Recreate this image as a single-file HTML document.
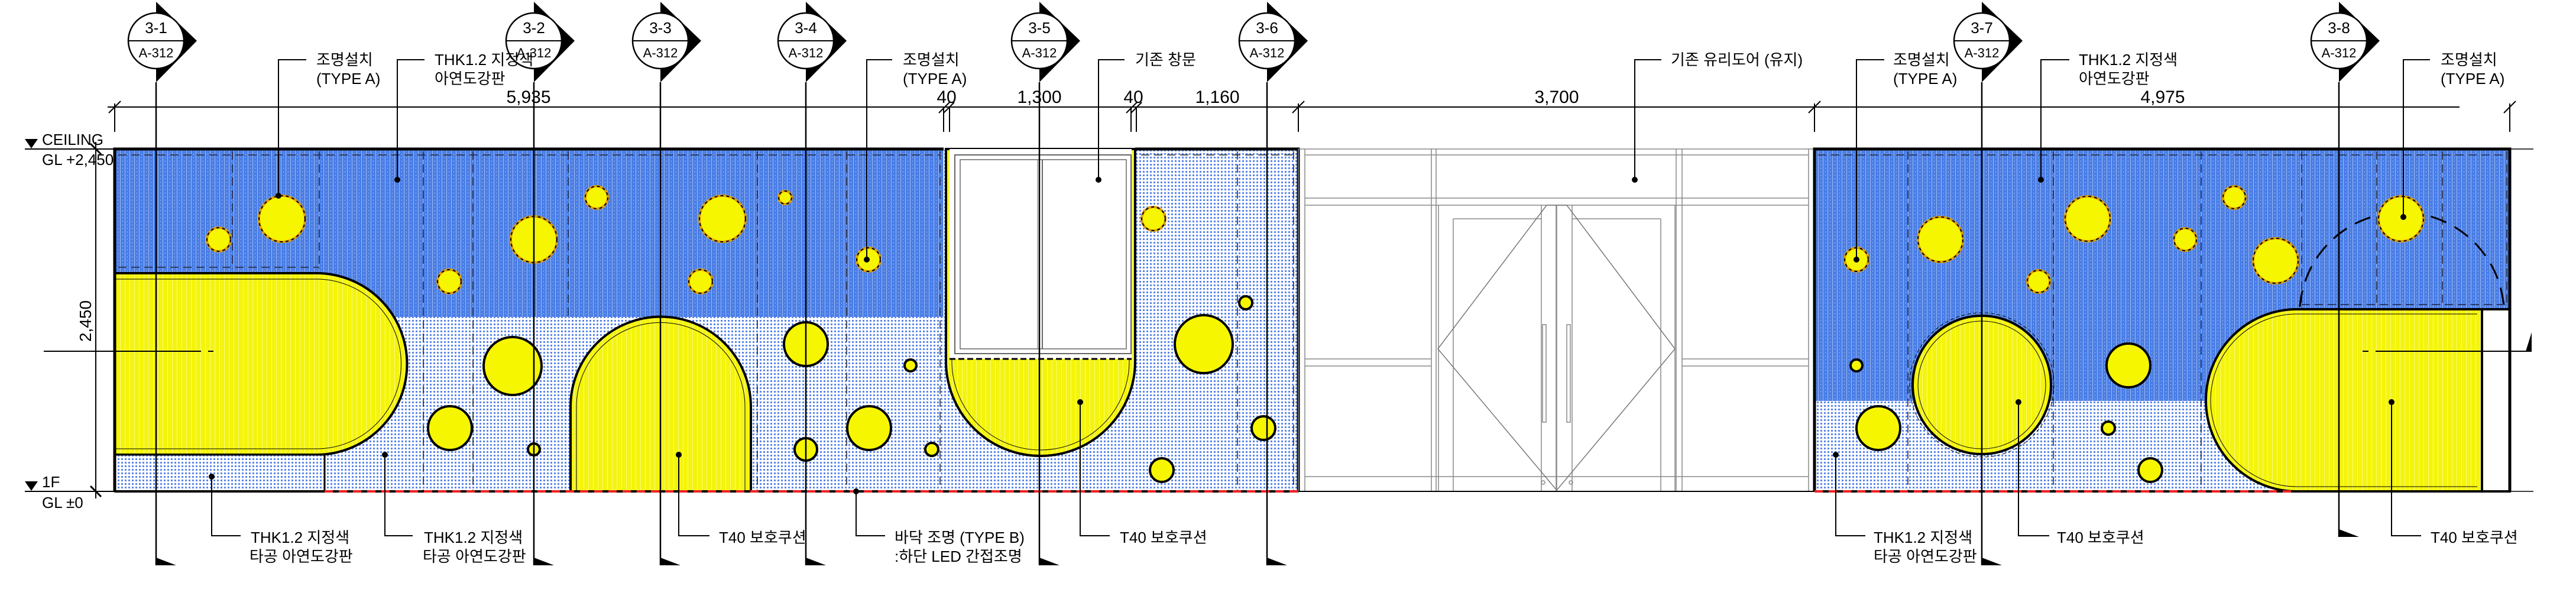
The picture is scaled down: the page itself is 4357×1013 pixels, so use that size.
<!DOCTYPE html>
<html><head><meta charset="utf-8"><style>
html,body{margin:0;padding:0;background:#fff;}
svg{display:block;}
text{font-family:"Liberation Sans","Noto Sans CJK KR",sans-serif;fill:#000;}
</style></head><body>
<svg width="4357" height="1013" viewBox="0 0 4357 1013" xmlns="http://www.w3.org/2000/svg">
<defs>
<pattern id="blue" width="8" height="6" patternUnits="userSpaceOnUse">
<rect width="8" height="6" fill="#4a7ee6"/>
<rect x="3" y="0" width="1" height="6" fill="#9fbaf2"/>
<rect x="7" y="2" width="1" height="1" fill="#dfe8fb"/>
</pattern>
<pattern id="light" width="6" height="6" patternUnits="userSpaceOnUse">
<rect width="6" height="6" fill="#fff"/>
<rect x="1" y="1" width="3" height="3" fill="#5a86ea"/>
</pattern>
<pattern id="yel" width="8" height="6" patternUnits="userSpaceOnUse">
<rect width="8" height="6" fill="#f4f40c"/>
<rect x="3" width="1" height="6" fill="#fafa80"/>
</pattern>
</defs>

<!-- ===== LEFT SECTION ===== -->
<rect x="194" y="252" width="2002" height="579" fill="url(#light)"/>
<rect x="194" y="252" width="1402" height="284" fill="url(#blue)"/>
<path d="M194 462 H535 A153.5 153.5 0 0 1 535 769 H194 Z" fill="url(#yel)" stroke="#000" stroke-width="4"/>
<path d="M194 472 H535 A143 143 0 0 1 535 759 H194" fill="none" stroke="#000" stroke-width="1"/>
<rect x="194" y="769" width="355" height="62" fill="url(#light)" stroke="#000" stroke-width="3"/>
<path d="M965 831 V688 A152.5 152.5 0 0 1 1270 688 V831 Z" fill="url(#yel)" stroke="#000" stroke-width="4"/>
<path d="M975 831 V688 A142.5 142.5 0 0 1 1260 688 V831" fill="none" stroke="#000" stroke-width="1"/>
<g stroke="#223" stroke-width="1.5" stroke-dasharray="14 8" fill="none">
<line x1="200" y1="262" x2="1590" y2="262"/>
<line x1="200" y1="452" x2="540" y2="452"/>
<line x1="393" y1="256" x2="393" y2="455"/><line x1="540" y1="256" x2="540" y2="455"/>
<line x1="716" y1="256" x2="716" y2="831"/><line x1="800" y1="256" x2="800" y2="831"/>
<line x1="961" y1="256" x2="961" y2="540"/><line x1="1281" y1="256" x2="1281" y2="831"/>
<line x1="1432" y1="256" x2="1432" y2="831"/><line x1="1590" y1="256" x2="1590" y2="831"/>
<line x1="1930" y1="262" x2="2190" y2="262"/><line x1="2093" y1="256" x2="2093" y2="831"/>
<line x1="2188" y1="256" x2="2188" y2="831"/>
</g>
<!-- window U -->
<path d="M1600 252 V611 A160 160 0 0 0 1920 611 V252 Z" fill="url(#yel)" stroke="#000" stroke-width="4"/>
<path d="M1610 252 V611 A150 150 0 0 0 1910 611 V252" fill="none" stroke="#000" stroke-width="1"/>
<rect x="1606" y="252" width="308" height="355" fill="#fff"/>
<line x1="1606" y1="607" x2="1914" y2="607" stroke="#000" stroke-width="3" stroke-dasharray="10 5"/>
<rect x="1615" y="262" width="298" height="336" fill="none" stroke="#666" stroke-width="2"/>
<rect x="1624" y="270" width="281" height="320" fill="none" stroke="#666" stroke-width="1.5"/>
<line x1="1763" y1="270" x2="1763" y2="590" stroke="#666" stroke-width="2"/>
<line x1="1755" y1="270" x2="1755" y2="590" stroke="#666" stroke-width="1"/>
<path d="M194 831 V252 H1596 M1920 252 H2196 V831" fill="none" stroke="#000" stroke-width="5"/>
<line x1="549" y1="831" x2="2196" y2="831" stroke="#000" stroke-width="4"/>
<line x1="549" y1="831" x2="2196" y2="831" stroke="#e22" stroke-width="4" stroke-dasharray="14 10"/>
<line x1="194" y1="831" x2="549" y2="831" stroke="#000" stroke-width="4"/>

<!-- ===== DOOR ===== -->
<g stroke="#888" stroke-width="1.5" fill="none">
<rect x="2196" y="252" width="873" height="579"/>
<line x1="2207" y1="262" x2="3059" y2="262"/>
<line x1="2207" y1="252" x2="2207" y2="831"/><line x1="3059" y1="252" x2="3059" y2="831"/>
<line x1="2421" y1="252" x2="2421" y2="831"/><line x1="2429" y1="252" x2="2429" y2="831"/>
<line x1="2835" y1="252" x2="2835" y2="831"/><line x1="2845" y1="252" x2="2845" y2="831"/>
<line x1="2207" y1="335" x2="3059" y2="335"/><line x1="2207" y1="347" x2="3059" y2="347"/>
<line x1="2207" y1="607" x2="2421" y2="607"/><line x1="2207" y1="619" x2="2421" y2="619"/>
<line x1="2845" y1="607" x2="3059" y2="607"/><line x1="2845" y1="619" x2="3059" y2="619"/>
<line x1="2207" y1="806" x2="3059" y2="806"/>
<line x1="2433" y1="347" x2="2433" y2="831"/><line x1="2833" y1="347" x2="2833" y2="831"/>
<line x1="2458" y1="370" x2="2458" y2="831"/><line x1="2607" y1="347" x2="2607" y2="831"/>
<line x1="2632" y1="347" x2="2632" y2="831"/><line x1="2659" y1="347" x2="2659" y2="831"/>
<line x1="2809" y1="370" x2="2809" y2="831"/>
<line x1="2458" y1="370" x2="2607" y2="370"/><line x1="2659" y1="370" x2="2809" y2="370"/>
<polygon points="2616,347 2432,590 2633,829 2833,590 2650,347" stroke="#777"/>
<line x1="2633" y1="347" x2="2633" y2="831"/>
<rect x="2609" y="549" width="6" height="165"/><rect x="2650" y="549" width="6" height="165"/>
<circle cx="2610" cy="816" r="3"/><circle cx="2657" cy="816" r="3"/>
</g>
<line x1="2196" y1="831" x2="3069" y2="831" stroke="#000" stroke-width="2"/>

<!-- ===== RIGHT SECTION ===== -->
<rect x="3069" y="252" width="1176" height="579" fill="url(#light)"/>
<rect x="3069" y="252" width="1176" height="426" fill="url(#blue)"/>
<rect x="3727" y="523" width="518" height="155" fill="url(#blue)"/>
<g stroke="#223" stroke-width="1.5" stroke-dasharray="14 8" fill="none">
<line x1="3075" y1="262" x2="4240" y2="262"/>
<line x1="3893" y1="515" x2="4240" y2="515"/>
<line x1="3227" y1="256" x2="3227" y2="831"/><line x1="3473" y1="256" x2="3473" y2="831"/>
<line x1="3723" y1="256" x2="3723" y2="831"/><line x1="3893" y1="256" x2="3893" y2="831"/>
<line x1="4020" y1="256" x2="4020" y2="515"/><line x1="4131" y1="256" x2="4131" y2="515"/>
<line x1="4240" y1="256" x2="4240" y2="515"/>
</g>
<path d="M3890 519 A173 173 0 0 1 4235 519" fill="none" stroke="#000" stroke-width="3" stroke-dasharray="28 16"/>
<circle cx="3352" cy="651" r="122" fill="none" stroke="#000" stroke-width="1" stroke-dasharray="6 4"/>
<circle cx="3352" cy="651" r="117" fill="url(#yel)" stroke="#000" stroke-width="4"/>
<circle cx="3352" cy="651" r="108" fill="none" stroke="#000" stroke-width="1"/>
<path d="M4198 523 H3885 A154 154 0 0 0 3885 831 H4198 Z" fill="url(#yel)" stroke="#000" stroke-width="4"/>
<path d="M4190 531 H3885 A146 146 0 0 0 3885 823 H4190" fill="none" stroke="#000" stroke-width="1"/>
<rect x="4198" y="523" width="47" height="308" fill="#fff" stroke="#000" stroke-width="4"/>
<path d="M3069 831 V252 H4245 V831" fill="none" stroke="#000" stroke-width="5"/>
<line x1="3069" y1="831" x2="4245" y2="831" stroke="#000" stroke-width="4"/>
<line x1="3069" y1="831" x2="3885" y2="831" stroke="#e22" stroke-width="4" stroke-dasharray="14 10"/>
<line x1="4245" y1="252" x2="4285" y2="252" stroke="#000" stroke-width="1.5"/>
<line x1="4245" y1="831" x2="4285" y2="831" stroke="#000" stroke-width="1.5"/>

<!-- ===== CIRCLES ===== -->
<g fill="#f6f600" stroke="#000" stroke-width="4">
<circle cx="867" cy="619" r="49"/><circle cx="761" cy="724" r="37"/><circle cx="903" cy="760" r="10"/>
<circle cx="1363" cy="582" r="37"/><circle cx="1540" cy="618" r="10"/><circle cx="1470" cy="724" r="37"/>
<circle cx="1363" cy="760" r="19"/><circle cx="1576" cy="760" r="11"/>
<circle cx="2036" cy="582" r="49"/><circle cx="2107" cy="512" r="11"/><circle cx="1965" cy="795" r="20"/><circle cx="2137" cy="724" r="20"/>
<circle cx="3600" cy="618" r="37"/><circle cx="3566" cy="724" r="11"/><circle cx="3637" cy="795" r="20"/>
<circle cx="3177" cy="724" r="37"/><circle cx="3140" cy="618" r="10"/>
</g>
<g fill="#f6f600" stroke="#e0a000" stroke-width="4">
<circle cx="477" cy="370" r="39"/><circle cx="370" cy="405" r="20"/><circle cx="760" cy="476" r="20"/>
<circle cx="903" cy="405" r="39"/><circle cx="1009" cy="334" r="19"/>
<circle cx="1222" cy="370" r="39"/><circle cx="1328" cy="334" r="11"/><circle cx="1185" cy="476" r="20"/><circle cx="1469" cy="439" r="20"/>
<circle cx="1951" cy="370" r="20"/>
<circle cx="3282" cy="405" r="38"/><circle cx="3531" cy="370" r="38"/><circle cx="3779" cy="334" r="19"/>
<circle cx="3696" cy="405" r="19"/><circle cx="3448" cy="476" r="19"/><circle cx="3849" cy="441" r="38"/>
<circle cx="4061" cy="370" r="38"/><circle cx="3140" cy="439" r="20"/>
</g>
<g fill="none" stroke="#000" stroke-width="2" stroke-dasharray="5 5">
<circle cx="477" cy="370" r="39"/><circle cx="370" cy="405" r="20"/><circle cx="760" cy="476" r="20"/>
<circle cx="903" cy="405" r="39"/><circle cx="1009" cy="334" r="19"/>
<circle cx="1222" cy="370" r="39"/><circle cx="1328" cy="334" r="11"/><circle cx="1185" cy="476" r="20"/><circle cx="1469" cy="439" r="20"/>
<circle cx="1951" cy="370" r="20"/>
<circle cx="3282" cy="405" r="38"/><circle cx="3531" cy="370" r="38"/><circle cx="3779" cy="334" r="19"/>
<circle cx="3696" cy="405" r="19"/><circle cx="3448" cy="476" r="19"/><circle cx="3849" cy="441" r="38"/>
<circle cx="4061" cy="370" r="38"/><circle cx="3140" cy="439" r="20"/>
</g>

<!-- ===== LEVELS / DIMS ===== -->
<line x1="42" y1="252" x2="194" y2="252" stroke="#000" stroke-width="2"/>
<line x1="42" y1="831" x2="194" y2="831" stroke="#000" stroke-width="2"/>
<polygon points="42,235 64,235 53,251" fill="#000"/>
<polygon points="42,814 64,814 53,830" fill="#000"/>
<text x="71" y="245" font-size="26">CEILING</text>
<text x="71" y="279" font-size="26">GL +2,450</text>
<text x="71" y="824" font-size="26">1F</text>
<text x="71" y="859" font-size="26">GL ±0</text>
<line x1="162" y1="240" x2="162" y2="843" stroke="#000" stroke-width="2"/>
<line x1="153" y1="243" x2="171" y2="261" stroke="#000" stroke-width="3"/>
<line x1="153" y1="822" x2="171" y2="840" stroke="#000" stroke-width="3"/>
<text x="154" y="543" font-size="28" text-anchor="middle" transform="rotate(-90 154 543)">2,450</text>
<line x1="74" y1="594" x2="340" y2="594" stroke="#000" stroke-width="2"/>
<line x1="352" y1="594" x2="361" y2="594" stroke="#000" stroke-width="2"/>
<line x1="4018" y1="594" x2="4282" y2="594" stroke="#000" stroke-width="2"/>
<line x1="3996" y1="594" x2="4006" y2="594" stroke="#000" stroke-width="2"/>
<polygon points="4282,562 4282,594 4272,594" fill="#000"/>

<line x1="182" y1="181" x2="4160" y2="181" stroke="#000" stroke-width="2"/>
<g stroke="#000" stroke-width="2">
<line x1="194" y1="175" x2="194" y2="223"/><line x1="184" y1="191" x2="204" y2="171"/>
<line x1="1596" y1="181" x2="1596" y2="223"/><line x1="1606" y1="181" x2="1606" y2="223"/>
<line x1="1588" y1="191" x2="1606" y2="173"/><line x1="1596" y1="191" x2="1614" y2="173"/>
<line x1="1913" y1="181" x2="1913" y2="223"/><line x1="1922" y1="181" x2="1922" y2="223"/>
<line x1="1905" y1="191" x2="1923" y2="173"/><line x1="1913" y1="191" x2="1931" y2="173"/>
<line x1="2196" y1="175" x2="2196" y2="223"/><line x1="2186" y1="191" x2="2206" y2="171"/>
<line x1="3069" y1="175" x2="3069" y2="223"/><line x1="3059" y1="191" x2="3079" y2="171"/>
<line x1="4245" y1="175" x2="4245" y2="223"/><line x1="4235" y1="191" x2="4255" y2="171"/>
</g>
<g font-size="30" text-anchor="middle">
<text x="894" y="174">5,935</text><text x="1601" y="174">40</text><text x="1758" y="174">1,300</text>
<text x="1917" y="174">40</text><text x="2059" y="174">1,160</text><text x="2633" y="174">3,700</text>
<text x="3658" y="174">4,975</text>
</g>

<!-- ===== SECTION MARKERS ===== -->
<g stroke="#000" stroke-width="2.5">
<line x1="264" y1="139" x2="264" y2="956"/><line x1="903" y1="139" x2="903" y2="956"/>
<line x1="1117" y1="139" x2="1117" y2="956"/><line x1="1363" y1="139" x2="1363" y2="956"/>
<line x1="1758" y1="139" x2="1758" y2="956"/><line x1="2143" y1="139" x2="2143" y2="956"/>
<line x1="3352" y1="139" x2="3352" y2="956"/><line x1="3956" y1="139" x2="3956" y2="908"/>
</g>
<g fill="#000">
<polygon points="264,943 298,956 264,956"/><polygon points="903,943 937,956 903,956"/>
<polygon points="1117,943 1151,956 1117,956"/><polygon points="1363,943 1397,956 1363,956"/>
<polygon points="1758,943 1792,956 1758,956"/><polygon points="2143,943 2177,956 2143,956"/>
<polygon points="3352,943 3386,956 3352,956"/><polygon points="3956,895 3990,908 3956,908"/>
</g>
<g font-size="22" text-anchor="middle">
<g transform="translate(264,0)"><polygon points="0,3 69,69 0,139" fill="#000"/><circle cx="0" cy="69" r="47" fill="#fff" stroke="#000" stroke-width="2.5"/><line x1="-47" y1="69" x2="47" y2="69" stroke="#000" stroke-width="2"/><text y="56" font-size="26">3-1</text><text y="97">A-312</text></g>
<g transform="translate(903,0)"><polygon points="0,3 69,69 0,139" fill="#000"/><circle cx="0" cy="69" r="47" fill="#fff" stroke="#000" stroke-width="2.5"/><line x1="-47" y1="69" x2="47" y2="69" stroke="#000" stroke-width="2"/><text y="56" font-size="26">3-2</text><text y="97">A-312</text></g>
<g transform="translate(1117,0)"><polygon points="0,3 69,69 0,139" fill="#000"/><circle cx="0" cy="69" r="47" fill="#fff" stroke="#000" stroke-width="2.5"/><line x1="-47" y1="69" x2="47" y2="69" stroke="#000" stroke-width="2"/><text y="56" font-size="26">3-3</text><text y="97">A-312</text></g>
<g transform="translate(1363,0)"><polygon points="0,3 69,69 0,139" fill="#000"/><circle cx="0" cy="69" r="47" fill="#fff" stroke="#000" stroke-width="2.5"/><line x1="-47" y1="69" x2="47" y2="69" stroke="#000" stroke-width="2"/><text y="56" font-size="26">3-4</text><text y="97">A-312</text></g>
<g transform="translate(1758,0)"><polygon points="0,3 69,69 0,139" fill="#000"/><circle cx="0" cy="69" r="47" fill="#fff" stroke="#000" stroke-width="2.5"/><line x1="-47" y1="69" x2="47" y2="69" stroke="#000" stroke-width="2"/><text y="56" font-size="26">3-5</text><text y="97">A-312</text></g>
<g transform="translate(2143,0)"><polygon points="0,3 69,69 0,139" fill="#000"/><circle cx="0" cy="69" r="47" fill="#fff" stroke="#000" stroke-width="2.5"/><line x1="-47" y1="69" x2="47" y2="69" stroke="#000" stroke-width="2"/><text y="56" font-size="26">3-6</text><text y="97">A-312</text></g>
<g transform="translate(3352,0)"><polygon points="0,3 69,69 0,139" fill="#000"/><circle cx="0" cy="69" r="47" fill="#fff" stroke="#000" stroke-width="2.5"/><line x1="-47" y1="69" x2="47" y2="69" stroke="#000" stroke-width="2"/><text y="56" font-size="26">3-7</text><text y="97">A-312</text></g>
<g transform="translate(3956,0)"><polygon points="0,3 69,69 0,139" fill="#000"/><circle cx="0" cy="69" r="47" fill="#fff" stroke="#000" stroke-width="2.5"/><line x1="-47" y1="69" x2="47" y2="69" stroke="#000" stroke-width="2"/><text y="56" font-size="26">3-8</text><text y="97">A-312</text></g>
</g>

<!-- ===== LEADERS ===== -->
<g stroke="#000" stroke-width="2" fill="none">
<polyline points="518,101 471,101 471,331"/>
<polyline points="718,101 672,101 672,304"/>
<polyline points="1509,101 1466,101 1466,439"/>
<polyline points="1902,101 1858,101 1858,304"/>
<polyline points="2810,101 2765,101 2765,304"/>
<polyline points="3187,101 3140,101 3140,439"/>
<polyline points="3500,101 3452,101 3452,304"/>
<polyline points="4110,101 4065,101 4065,367"/>
<polyline points="358,806 358,906 407,906"/>
<polyline points="651,769 651,906 698,906"/>
<polyline points="1148,769 1148,906 1200,906"/>
<polyline points="1448,831 1448,906 1497,906"/>
<polyline points="1827,680 1827,906 1877,906"/>
<polyline points="3105,769 3105,906 3155,906"/>
<polyline points="3414,680 3414,906 3466,906"/>
<polyline points="4045,680 4045,906 4095,906"/>
</g>
<g fill="#000">
<circle cx="471" cy="331" r="5"/><circle cx="672" cy="304" r="5"/><circle cx="1466" cy="439" r="5"/>
<circle cx="1858" cy="304" r="5"/><circle cx="2765" cy="304" r="5"/><circle cx="3140" cy="439" r="5"/>
<circle cx="3452" cy="304" r="5"/><circle cx="4065" cy="367" r="5"/>
<circle cx="358" cy="806" r="5"/><circle cx="651" cy="769" r="5"/><circle cx="1148" cy="769" r="5"/>
<circle cx="1448" cy="831" r="5"/><circle cx="1827" cy="680" r="5"/><circle cx="3105" cy="769" r="5"/>
<circle cx="3414" cy="680" r="5"/><circle cx="4045" cy="680" r="5"/>
</g>
<g font-size="26">
<text x="535" y="110">조명설치</text><text x="535" y="142">(TYPE A)</text>
<text x="735" y="110">THK1.2 지정색</text><text x="735" y="142">아연도강판</text>
<text x="1527" y="110">조명설치</text><text x="1527" y="142">(TYPE A)</text>
<text x="1920" y="110">기존 창문</text>
<text x="2826" y="110">기존 유리도어 (유지)</text>
<text x="3202" y="110">조명설치</text><text x="3202" y="142">(TYPE A)</text>
<text x="3516" y="110">THK1.2 지정색</text><text x="3516" y="142">아연도강판</text>
<text x="4128" y="110">조명설치</text><text x="4128" y="142">(TYPE A)</text>
<text x="424" y="918">THK1.2 지정색</text><text x="422" y="950">타공 아연도강판</text>
<text x="717" y="918">THK1.2 지정색</text><text x="715" y="950">타공 아연도강판</text>
<text x="1216" y="918">T40 보호쿠션</text>
<text x="1513" y="918">바닥 조명 (TYPE B)</text><text x="1513" y="950">:하단 LED 간접조명</text>
<text x="1894" y="918">T40 보호쿠션</text>
<text x="3169" y="918">THK1.2 지정색</text><text x="3169" y="950">타공 아연도강판</text>
<text x="3479" y="918">T40 보호쿠션</text>
<text x="4111" y="918">T40 보호쿠션</text>
</g>
</svg>
</body></html>
